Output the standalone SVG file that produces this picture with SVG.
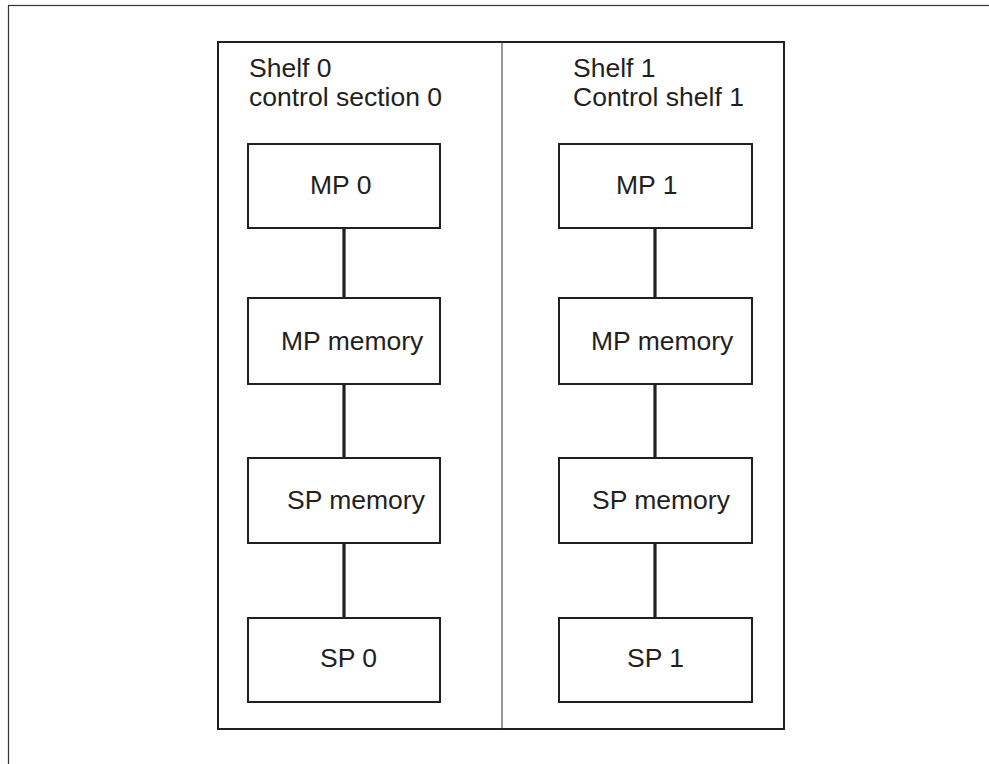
<svg xmlns="http://www.w3.org/2000/svg" width="989" height="764" viewBox="0 0 989 764">
<style>
.frame{fill:none;stroke:#333;stroke-width:1.2}
.main{fill:none;stroke:#231f20;stroke-width:2}
.div{stroke:#333;stroke-width:1}
.box{fill:#fff;stroke:#231f20;stroke-width:2}
.conn{stroke:#231f20;stroke-width:3.2;fill:none}
text{font-family:"Liberation Sans",Arial,Helvetica,sans-serif;font-size:26.5px;fill:#231f20}
</style>
<rect width="989" height="764" fill="#fff"/>
<rect class="frame" x="8.5" y="5.5" width="1000" height="800"/>
<g id="chassis">
<rect class="main" x="218" y="42" width="566" height="687"/>
<line class="div" x1="502" y1="42" x2="502" y2="729"/>
</g>
<g id="shelf0-label"><text x="249" y="77">Shelf 0</text><text x="249" y="106">control section 0</text></g>
<g id="shelf1-label"><text x="573" y="77">Shelf 1</text><text x="573" y="106">Control shelf 1</text></g>
<g id="connectors">
<line class="conn" x1="344" y1="228" x2="344" y2="298"/>
<line class="conn" x1="344" y1="384" x2="344" y2="458"/>
<line class="conn" x1="344" y1="543" x2="344" y2="618"/>
<line class="conn" x1="655" y1="228" x2="655" y2="298"/>
<line class="conn" x1="655" y1="384" x2="655" y2="458"/>
<line class="conn" x1="655" y1="543" x2="655" y2="618"/>
</g>
<g id="mp0"><rect class="box" x="248" y="144" width="192" height="84"/><text x="310" y="194">MP 0</text></g>
<g id="mpmem0"><rect class="box" x="248" y="298" width="192" height="86"/><text x="281" y="350">MP memory</text></g>
<g id="spmem0"><rect class="box" x="248" y="458" width="192" height="85"/><text x="287" y="509">SP memory</text></g>
<g id="sp0"><rect class="box" x="248" y="618" width="192" height="84"/><text x="320" y="667">SP 0</text></g>
<g id="mp1"><rect class="box" x="559" y="144" width="193" height="84"/><text x="616" y="194">MP 1</text></g>
<g id="mpmem1"><rect class="box" x="559" y="298" width="193" height="86"/><text x="591" y="350">MP memory</text></g>
<g id="spmem1"><rect class="box" x="559" y="458" width="193" height="85"/><text x="592" y="509">SP memory</text></g>
<g id="sp1"><rect class="box" x="559" y="618" width="193" height="84"/><text x="627" y="667">SP 1</text></g>
</svg>
